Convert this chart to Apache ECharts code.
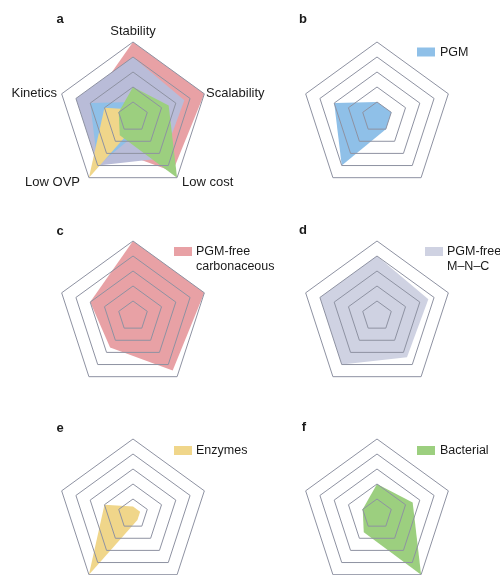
<!DOCTYPE html>
<html>
<head>
<meta charset="utf-8">
<script src="https://cdn.jsdelivr.net/npm/echarts@6/dist/echarts.min.js"></script>
<style>
  html, body { margin: 0; padding: 0; background: #ffffff; }
  #chart { width: 500px; height: 575px; }
</style>
</head>
<body>
<div id="chart"></div>
<script>
// Axes, listed counter-clockwise from the top (ECharts radar order)
const axes = ['Stability', 'Kinetics', 'Low OVP', 'Low cost', 'Scalability'];
const axisMax = 5;

// Scores per catalyst class, same order as axes
const pgm          = [1, 3, 4, 1, 1];
const carbonaceous = [5, 3, 2.6, 4.5, 5];
const mnc          = [4, 4, 4, 3.4, 3.6];
const enzymes      = [0.5, 2, 5, 0.5, 0.5];
const bacterial    = [2, 1, 1.5, 5, 2.5];

const seriesNames = ['PGM', 'PGM-free\ncarbonaceous', 'PGM-free\nM\u2013N\u2013C', 'Enzymes', 'Bacterial'];
const panelLetters = ['a', 'b', 'c', 'd', 'e', 'f'];

const COL = {
  pgm: '#8FC0E8',
  carb: '#E8A1A5',
  mnc: '#CFD2E2',
  mncAll: '#B9BCD8',
  enz: '#F0D68A',
  bac: '#9CCF7F',
  grid: '#8E92A2',
  text: '#1a1a1a'
};

const FONT = '"Liberation Sans", Arial, sans-serif';
const R = 75;
const centers = [[133, 117], [377, 117], [133, 316], [377, 316], [133, 514], [377, 514]];

const radars = centers.map(c => ({
  center: c,
  radius: R,
  startAngle: 90,
  shape: 'polygon',
  splitNumber: 5,
  z: 5,
  indicator: axes.map(n => ({ name: n, min: 0, max: axisMax })),
  axisName: { show: false },
  axisLine: { show: false },
  axisTick: { show: false },
  splitArea: { show: false },
  splitLine: { lineStyle: { color: COL.grid, width: 1 } }
}));

function item(name, values, color) {
  return {
    name: name,
    value: values,
    symbol: 'none',
    lineStyle: { width: 0, opacity: 0 },
    itemStyle: { color: color },
    areaStyle: { color: color, opacity: 1 }
  };
}

const series = [
  {
    type: 'radar', radarIndex: 0, silent: true, z: 2,
    data: [
      item('all-carbonaceous', carbonaceous, COL.carb),
      item('all-mnc', mnc, COL.mncAll),
      item('all-pgm', pgm, COL.pgm),
      item('all-enzymes', enzymes, COL.enz),
      item('all-bacterial', bacterial, COL.bac)
    ]
  },
  { type: 'radar', radarIndex: 1, silent: true, z: 2, data: [item(seriesNames[0], pgm, COL.pgm)] },
  { type: 'radar', radarIndex: 2, silent: true, z: 2, data: [item(seriesNames[1], carbonaceous, COL.carb)] },
  { type: 'radar', radarIndex: 3, silent: true, z: 2, data: [item(seriesNames[2], mnc, COL.mnc)] },
  { type: 'radar', radarIndex: 4, silent: true, z: 2, data: [item(seriesNames[3], enzymes, COL.enz)] },
  { type: 'radar', radarIndex: 5, silent: true, z: 2, data: [item(seriesNames[4], bacterial, COL.bac)] }
];

// Panel letters
const letterPos = [[60, 19], [303, 19], [60, 231], [303, 230], [60, 428], [304, 427]];
const graphics = panelLetters.map((t, i) => ({
  type: 'text',
  x: letterPos[i][0], y: letterPos[i][1],
  style: { text: t, font: 'bold 13px ' + FONT, fill: COL.text, align: 'center', verticalAlign: 'middle' }
}));

// Axis names around panel a
const axisLabelPos = [
  { x: 133, y: 31, align: 'center' },
  { x: 57,  y: 93, align: 'right' },
  { x: 80,  y: 182, align: 'right' },
  { x: 182, y: 182, align: 'left' },
  { x: 206, y: 93, align: 'left' }
];
axes.forEach((n, i) => {
  const p = axisLabelPos[i];
  graphics.push({
    type: 'text', x: p.x, y: p.y,
    style: { text: n, font: '13px ' + FONT, fill: COL.text, align: p.align, verticalAlign: 'middle' }
  });
});

// Legend keys for panels b-f
const legendPos = [
  { x: 417, y: 47.5, tx: 440, color: COL.pgm },
  { x: 174, y: 247,  tx: 196, color: COL.carb },
  { x: 425, y: 247,  tx: 447, color: COL.mnc },
  { x: 174, y: 446,  tx: 196, color: COL.enz },
  { x: 417, y: 446,  tx: 440, color: COL.bac }
];
seriesNames.forEach((n, i) => {
  const p = legendPos[i];
  graphics.push({
    type: 'rect',
    shape: { x: p.x, y: p.y, width: 18, height: 9 },
    style: { fill: p.color }
  });
  graphics.push({
    type: 'text', x: p.tx, y: p.y - 2.5,
    style: { text: n, font: '12.5px ' + FONT, fill: COL.text, align: 'left', verticalAlign: 'top', lineHeight: 15 }
  });
});

const chart = echarts.init(document.getElementById('chart'), null, { renderer: 'canvas' });
chart.setOption({
  backgroundColor: '#ffffff',
  animation: false,
  radar: radars,
  series: series,
  graphic: graphics
});
</script>
</body>
</html>
